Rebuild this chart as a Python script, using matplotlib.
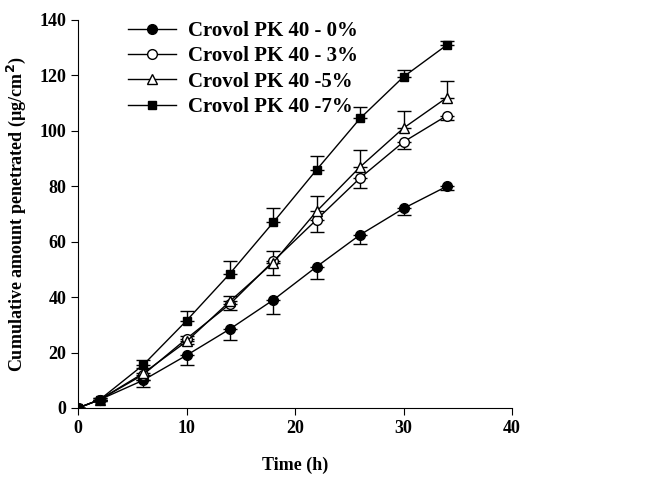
import matplotlib
matplotlib.use("Agg")
import matplotlib.pyplot as plt

plt.rcParams['font.family'] = ['Liberation Serif', 'DejaVu Serif']
plt.rcParams['font.weight'] = 'bold'

time_h = [0, 2, 6, 10, 14, 18, 22, 26, 30, 34]
pk0 = [0, 3, 10, 19, 28.5, 39, 51, 62.5, 72, 80]
pk3 = [0, 3, 12, 25, 37.5, 53, 68, 83, 96, 105.5]
pk5 = [0, 3, 12.5, 24, 38.5, 52.5, 71, 87, 101, 112]
pk7 = [0, 3, 15.5, 31.5, 48.5, 67, 86, 104.5, 119.5, 131]
err0 = [0, 0.5, 2.5, 3.5, 4, 5, 4.5, 3.5, 2.5, 1.5]
err3 = [0, 0.5, 2, 2, 2, 5, 4.5, 3.5, 2.5, 1.5]
err5 = [0, 0.5, 2, 2, 2, 4, 5.5, 6, 6, 6]
err7 = [0, 0.5, 2, 3.5, 4.5, 5, 5, 4, 2.5, 1.5]
labels = ['Crovol PK 40 - 0%', 'Crovol PK 40 - 3%', 'Crovol PK 40 -5%', 'Crovol PK 40 -7%']

fig = plt.figure(figsize=(6.46, 4.82), dpi=100)
ax = fig.add_axes([78 / 646, 74 / 482, 434 / 646, 388 / 482])

zeros = [0] * len(time_h)
common = dict(color='black', lw=1, capsize=5, elinewidth=1, capthick=1)
c0 = ax.errorbar(time_h, pk0, yerr=[err0, zeros], marker='o', mfc='black', markersize=7, **common)
c3 = ax.errorbar(time_h, pk3, yerr=[err3, zeros], marker='o', mfc='white', markersize=7, **common)
c5 = ax.errorbar(time_h, pk5, yerr=[zeros, err5], marker='^', mfc='white', markersize=7, **common)
c7 = ax.errorbar(time_h, pk7, yerr=[zeros, err7], marker='s', mfc='black', markersize=6, **common)

ax.set_xlim(0, 40)
ax.set_ylim(0, 140)
ax.set_xticks([0, 10, 20, 30, 40])
ax.set_yticks(range(0, 141, 20))
ax.spines['top'].set_visible(False)
ax.spines['right'].set_visible(False)
ax.tick_params(direction='out', length=5, labelsize=13)
for lab in ax.get_xticklabels() + ax.get_yticklabels():
    lab.set_fontweight('bold')
ax.set_xlabel('Time (h)', fontsize=13, fontweight='bold', labelpad=14)
ax.set_ylabel('Cumulative amount penetrated (\u00b5g/cm$^2$)', fontsize=13, fontweight='bold', labelpad=8)

handles = [c0[0], c3[0], c5[0], c7[0]]
ax.legend(handles, labels, loc='upper left', bbox_to_anchor=(0.072, 1.045), frameon=False,
          prop={'size': 15, 'weight': 'bold'}, handlelength=2.3, handletextpad=0.6,
          labelspacing=0.25)

fig.savefig('out.png', dpi=100)
